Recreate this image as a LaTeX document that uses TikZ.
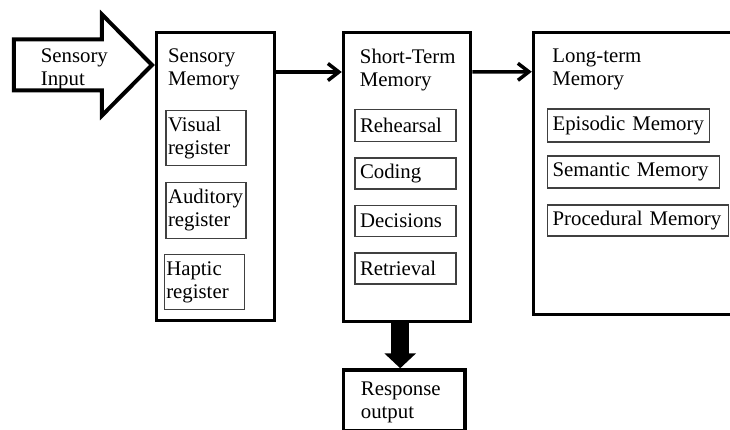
\documentclass[tikz,border=0pt]{standalone}
\usepackage{fontspec}
\setmainfont{Liberation Serif}
\usetikzlibrary{calc,positioning,arrows.meta}
\tikzstyle{memory}=[
  x=1pt,y=-1pt,font=\fontsize{20.8}{23}\selectfont
]
\tikzstyle{membox}=[
  draw,line width=3.5pt,inner sep=0pt
]
\tikzstyle{subbox}=[
  draw=black!75,line width=1.2pt,inner xsep=5pt,inner ysep=0pt,align=left
]
\tikzstyle{boxtitle}=[
  anchor=north west,inner sep=0pt,align=left
]
\tikzstyle{flow}=[
  line width=3.5pt,-{Straight Barb[length=11pt,width=17pt]}
]
\tikzstyle{bigarrow}=[
  draw,line width=4pt,miter limit=20
]

\begin{document}
\begin{tikzpicture}[memory]
    \useasboundingbox (0,0) rectangle (730,430);
    \clip (0,0) rectangle (730,430);

    % the stores
    \node (sm) at (215.6,176.5) [membox,minimum width=117.75pt,minimum height=287.5pt] {};
    \node (st) at (407,177) [membox,minimum width=127pt,minimum height=288.5pt] {};
    \node (lt) at (648.5,173.5) [membox,minimum width=230pt,minimum height=282pt] {};
    \node (ro) at (404.2,400.25) [membox,minimum width=121.5pt,minimum height=60.5pt] {};

    \node (smt) at ($(sm.north west)+(13,18)$) [boxtitle] {Sensory\\Memory};
    \node (stt) at ($(st.north west)+(18,17.5)$) [boxtitle] {Short-Term\\Memory};
    \node (ltt) at ($(lt.north west)+(20.5,17.5)$) [boxtitle] {Long-term\\Memory};
    \node (rot) at ($(ro.north west)+(19,13.5)$) [boxtitle] {Response\\output};

    % sensory registers
    \node (vis) at (206,138) [subbox,inner xsep=2pt,text width=76pt,minimum height=55.5pt] {Visual\\register};
    \node (aud) at ($(vis)+(0,72.5)$) [subbox,inner xsep=2pt,text width=76pt,minimum height=55.5pt] {Auditory\\register};
    \node (hap) at ($(aud)+(-1.7,71.5)$) [subbox,inner xsep=2pt,text width=76pt,minimum height=55.5pt] {Haptic\\register};

    % short-term processes
    \node (reh) at (405.5,125.5) [subbox,text width=91pt,minimum height=32pt] {Rehearsal};
    \node (cod) at ($(reh)+(0,48)$) [subbox,text width=91pt,minimum height=31pt] {Coding};
    \node (dec) at ($(cod)+(0,47.5)$) [subbox,text width=91pt,minimum height=30.5pt] {Decisions};
    \node (ret) at ($(dec)+(0,47.5)$) [subbox,text width=91pt,minimum height=31pt] {Retrieval};

    % long-term kinds
    \node (epi) at (547,125.5) [subbox,anchor=west,text width=152pt,minimum height=33pt] {Episodic Memory};
    \node (sem) at ($(epi.west)+(0,46.5)$) [subbox,anchor=west,text width=162pt,minimum height=32pt] {Semantic Memory};
    \node (pro) at ($(sem.west)+(0,48.5)$) [subbox,anchor=west,text width=171pt,minimum height=31pt] {Procedural Memory};

    % input
    \coordinate (tip) at ($(sm.north west)+(-3,34)$);
    \draw [bigarrow] (tip) -- ++(-50,-50.5) -- ++(0,25) -- ++(-88,0) -- ++(0,51)
      -- ++(88,0) -- ++(0,25) -- cycle;
    \node (inpt) at ($(tip)+(-111.3,-16.5)$) [boxtitle] {Sensory\\Input};

    \draw [flow] ([yshift=-41pt]sm.north east) -- ([yshift=-41pt]st.north west);
    \draw [flow] ([yshift=-41pt]st.north east) -- ([yshift=-41pt]lt.north west);
    \draw [line width=18pt,-{Triangle[length=15pt,width=31pt]}]
      ($(ro.north |- st.south)+(-4,0)$) -- ($(ro.north)+(-4,0)$);

\end{tikzpicture}
\end{document}
